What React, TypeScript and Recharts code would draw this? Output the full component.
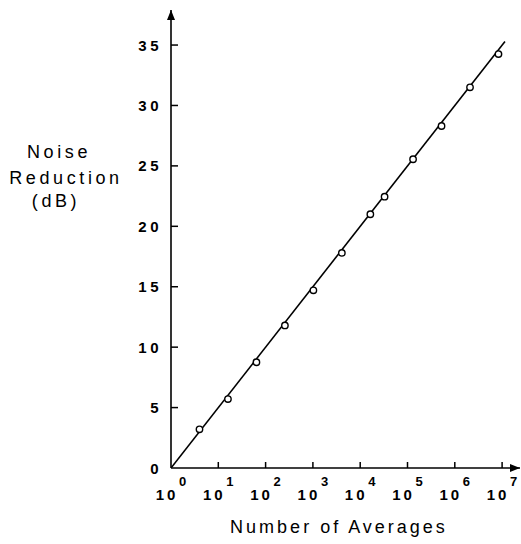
import { ComposedChart, Line, Scatter, XAxis, YAxis, ReferenceDot } from 'recharts';

// measured points: number of averages vs noise reduction (dB)
const averages = [4, 16, 64, 256, 1024, 4096, 16384, 32768, 131072, 524288, 2097152, 8388608];
const reduction = [3.2, 5.7, 8.75, 11.8, 14.7, 17.8, 21.0, 22.45, 25.55, 28.3, 31.5, 34.25];

// straight fitted line (drawn end points)
const fitAverages = [1, 11500000];
const fitReduction = [0, 35.3];

const xTicks = [1, 10, 100, 1000, 10000, 100000, 1000000, 10000000];
const yTicks = [0, 5, 10, 15, 20, 25, 30, 35];

const X_MAX = 23900000;
const Y_MAX = 37.9;
const FONT = '"Liberation Sans", Arial, Helvetica, sans-serif';

const points = averages.map((n, i) => ({ n, db: reduction[i] }));
const fit = fitAverages.map((n, i) => ({ n, db: fitReduction[i] }));

// ticks point inward, so the tick mark is drawn here with the label
// eslint-disable-next-line @typescript-eslint/no-explicit-any
function YTick({ x, y, payload }: any) {
  return (
    <g>
      {payload.value > 0 && <path d={`M${x},${y}h7`} stroke='#000' strokeWidth={1.5} />}
      <text x={x - 9} y={y + 5.5} textAnchor='end' fontFamily={FONT} fontSize={15} fontWeight='bold' letterSpacing={3.5} fill='#000'>
        {payload.value}
      </text>
    </g>
  );
}

// eslint-disable-next-line @typescript-eslint/no-explicit-any
function XTick({ x, y, payload }: any) {
  const exp = Math.round(Math.log10(payload.value));
  return (
    <g fontFamily={FONT} fontWeight='bold' fill='#000'>
      {payload.value > 1 && <path d={`M${x},${y}v-6`} stroke='#000' strokeWidth={1.5} />}
      <text x={x - 4} y={y + 32} textAnchor='middle' fontSize={15} letterSpacing={3}>
        10
      </text>
      <text x={x + 8} y={y + 18} textAnchor='start' fontSize={13}>
        {exp}
      </text>
    </g>
  );
}

// eslint-disable-next-line @typescript-eslint/no-explicit-any
function YTitle({ viewBox }: any) {
  const top = viewBox.y;
  return (
    <g fontFamily={FONT} fontSize={18} letterSpacing={3.6} fill='#000' textAnchor='middle'>
      <text x={59} y={top + 148}>Noise</text>
      <text x={66} y={top + 174}>Reduction</text>
      <text x={56} y={top + 197}>(dB)</text>
    </g>
  );
}

// eslint-disable-next-line @typescript-eslint/no-explicit-any
function XTitle({ viewBox }: any) {
  return (
    <text x={viewBox.x + 168} y={viewBox.y + 65} textAnchor='middle' fontFamily={FONT} fontSize={18} letterSpacing={3} fill='#000'>
      Number of Averages
    </text>
  );
}

// eslint-disable-next-line @typescript-eslint/no-explicit-any
const Circle = ({ cx, cy }: any) => <circle cx={cx} cy={cy} r={3.2} fill='#fff' stroke='#000' strokeWidth={1.4} />;

// eslint-disable-next-line @typescript-eslint/no-explicit-any
const ArrowRight = ({ cx, cy }: any) => <polygon points={`${cx},${cy} ${cx - 10},${cy - 4} ${cx - 10},${cy + 4}`} fill='#000' />;

// eslint-disable-next-line @typescript-eslint/no-explicit-any
const ArrowUp = ({ cx, cy }: any) => <polygon points={`${cx},${cy} ${cx - 4},${cy + 10} ${cx + 4},${cy + 10}`} fill='#000' />;

export default function App() {
  return (
    <div style={{ position: 'absolute', left: 0, top: 0, background: '#fff' }}>
      <ComposedChart width={521} height={544} margin={{ top: 10, right: 1, bottom: 46, left: 0 }}>
        <XAxis
          dataKey='n'
          type='number'
          scale='log'
          domain={[1, X_MAX]}
          ticks={xTicks}
          allowDataOverflow
          interval={0}
          height={30}
          tickSize={0}
          tickMargin={0}
          axisLine={{ stroke: '#000', strokeWidth: 1.6 }}
          tickLine={false}
          tick={<XTick />}
          label={{ content: <XTitle /> }}
        />
        <YAxis
          dataKey='db'
          type='number'
          domain={[0, Y_MAX]}
          ticks={yTicks}
          allowDataOverflow
          interval={0}
          width={171}
          tickSize={0}
          tickMargin={0}
          axisLine={{ stroke: '#000', strokeWidth: 1.6 }}
          tickLine={false}
          tick={<YTick />}
          label={{ content: <YTitle /> }}
        />
        <Line data={fit} dataKey='db' type='linear' stroke='#000' strokeWidth={1.6} dot={false} isAnimationActive={false} />
        <Scatter data={points} dataKey='db' shape={<Circle />} isAnimationActive={false} />
        <ReferenceDot x={X_MAX} y={0} ifOverflow='visible' shape={<ArrowRight />} />
        <ReferenceDot x={1} y={Y_MAX} ifOverflow='visible' shape={<ArrowUp />} />
      </ComposedChart>
    </div>
  );
}
